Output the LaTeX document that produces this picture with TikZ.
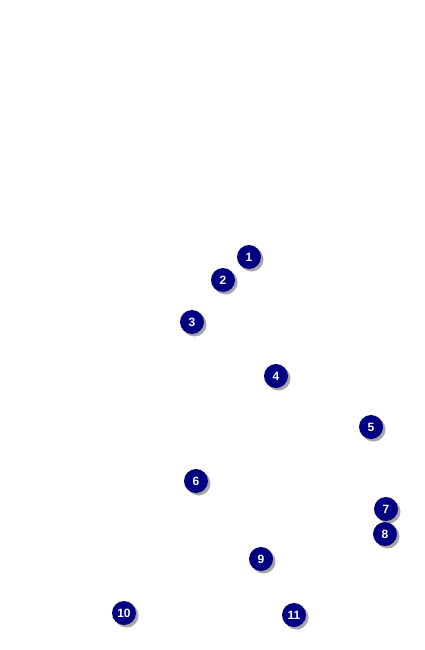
\documentclass[tikz,border=0pt]{standalone}
\usepackage{fontspec}
\setmainfont{Liberation Sans}
\usetikzlibrary{shadows}

\begin{document}
\begin{tikzpicture}[
    x=1pt, y=-1pt,
    marker/.style={circle, fill={rgb,255:red,0;green,0;blue,128}, text=white, inner sep=0pt,
        minimum size=24pt, font=\fontsize{12}{12}\selectfont\bfseries,
        drop shadow={shadow xshift=2.5pt, shadow yshift=-2.5pt, fill=black!35, opacity=1}}
]

\useasboundingbox (0,0) rectangle (425,650);

% Markers
\node[marker] (m1) at (249,257) {1};
\node[marker] (m2) at (223,280) {2};
\node[marker] (m3) at (192,322) {3};
\node[marker] (m4) at (276,376) {4};
\node[marker] (m5) at (371,427) {5};
\node[marker] (m6) at (196,481) {6};
\node[marker] (m7) at (386,509) {7};
\node[marker] (m8) at (385,534) {8};
\node[marker] (m9) at (261,559) {9};
\node[marker] (m10) at (124,613) {10};
\node[marker] (m11) at (294,615) {11};

\end{tikzpicture}
\end{document}
